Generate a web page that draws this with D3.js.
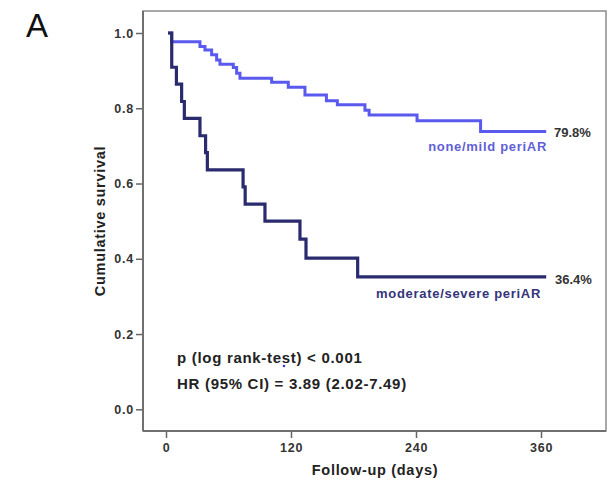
<!DOCTYPE html>
<html>
<head>
<meta charset="utf-8">
<script src="https://cdn.jsdelivr.net/npm/d3@7"></script>
<style>
  body { margin: 0; background: #fff; }
  text { font-family: "Liberation Sans", Arial, sans-serif; font-weight: bold; }
</style>
</head>
<body>
<div id="chart"></div>
<script>
// step points: [day, survival]
const mildSteps = [
  [2, 1.0], [5.4, 0.977], [32.6, 0.964], [37.4, 0.955], [43.8, 0.942], [48.6, 0.928],
  [51.8, 0.917], [64.6, 0.908], [67.8, 0.893], [71, 0.880], [101.4, 0.869], [117.4, 0.856],
  [133.4, 0.835], [154, 0.820], [164.5, 0.809], [191, 0.795], [195, 0.782], [241, 0.767],
  [302, 0.738], [365, 0.738]
];
const severeSteps = [
  [2, 1.0], [5.5, 0.909], [10, 0.864], [15, 0.818], [17.6, 0.773], [32.6, 0.727],
  [38, 0.682], [39.7, 0.636], [74, 0.591], [76, 0.545], [95, 0.5], [128.6, 0.452],
  [134.4, 0.402], [184, 0.352], [365, 0.352]
];
const xTicks = [0, 120, 240, 360];
const yTicks = [0, 0.2, 0.4, 0.6, 0.8, 1.0];
const seriesNames = ["none/mild periAR", "moderate/severe periAR"];
const endLabels = ["79.8%", "36.4%"];
const statLines = ["p (log rank-test) < 0.001", "HR (95% CI) = 3.89 (2.02-7.49)"];

const w = 615, h = 482;
const box = { left: 143, top: 11, right: 606, bottom: 431 };

const x = d3.scaleLinear().domain([0, 360]).range([166, 541]);
const y = d3.scaleLinear().domain([0, 1]).range([409.3, 33]);

const svg = d3.select("#chart").append("svg").attr("width", w).attr("height", h);

// panel letter
svg.append("text").attr("x", 26).attr("y", 37).text("A")
  .style("font-size", "33px").style("font-weight", "normal").attr("fill", "#111");

// frame
svg.append("rect")
  .attr("x", box.left).attr("y", box.top)
  .attr("width", box.right - box.left).attr("height", box.bottom - box.top)
  .attr("fill", "none").attr("stroke", "#8c8c8c").attr("stroke-width", 1.5);

// axes
let yAxis = svg.append("g").attr("transform", `translate(${box.left},0)`)
  .call(d3.axisLeft(y).tickValues(yTicks).tickFormat(d3.format(".1f")).tickSize(7).tickPadding(2));
let xAxis = svg.append("g").attr("transform", `translate(0,${box.bottom})`)
  .call(d3.axisBottom(x).tickValues(xTicks).tickSize(7).tickPadding(5));

[yAxis, xAxis].forEach(a => {
  a.select(".domain").remove();
  a.selectAll(".tick line").attr("stroke", "#666").attr("stroke-width", 1.5);
  a.selectAll(".tick text").attr("fill", "#333").style("font-size", "12.5px")
    .style("letter-spacing", "0.8px").style("font-family", "'Liberation Sans', Arial, sans-serif");
});

// darker left and bottom axis lines
svg.append("line").attr("x1", box.left).attr("x2", box.left).attr("y1", box.top).attr("y2", box.bottom)
  .attr("stroke", "#707070").attr("stroke-width", 2);
svg.append("line").attr("x1", box.left).attr("x2", box.right).attr("y1", box.bottom).attr("y2", box.bottom)
  .attr("stroke", "#707070").attr("stroke-width", 2);

// axis titles
svg.append("text").attr("x", 375).attr("y", 475).attr("text-anchor", "middle")
  .text("Follow-up (days)").style("font-size", "14.5px").style("letter-spacing", "0.7px").attr("fill", "#222");
svg.append("text").attr("transform", "translate(105,221) rotate(-90)").attr("text-anchor", "middle")
  .text("Cumulative survival").style("font-size", "14.5px").style("letter-spacing", "0.7px").attr("fill", "#222");

// survival curves
const line = d3.line().x(d => x(d[0])).y(d => y(d[1])).curve(d3.curveStepAfter);
const colors = ["#5a5aee", "#2a2a6e"];

svg.append("path").datum(mildSteps).attr("d", line)
  .attr("fill", "none").attr("stroke", colors[0]).attr("stroke-width", 3);
svg.append("path").datum(severeSteps).attr("d", line)
  .attr("fill", "none").attr("stroke", colors[1]).attr("stroke-width", 3.2);

// end labels
svg.append("text").attr("x", 554).attr("y", 137).text(endLabels[0])
  .style("font-size", "13px").attr("fill", "#333");
svg.append("text").attr("x", 555).attr("y", 284).text(endLabels[1])
  .style("font-size", "13px").attr("fill", "#333");

// series names
svg.append("text").attr("x", 547).attr("y", 151).attr("text-anchor", "end").text(seriesNames[0])
  .style("font-size", "13px").style("letter-spacing", "0.7px").attr("fill", "#5f5fd8");
svg.append("text").attr("x", 541).attr("y", 298).attr("text-anchor", "end").text(seriesNames[1])
  .style("font-size", "13px").style("letter-spacing", "0.7px").attr("fill", "#34347a");

// statistics
statLines.forEach((s, i) => {
  svg.append("text").attr("x", 177).attr("y", 363 + i * 26).text(s)
    .style("font-size", "15px").style("letter-spacing", "0.7px").attr("fill", "#222");
});

// small stray dot in the original
svg.append("circle").attr("cx", 284).attr("cy", 366).attr("r", 1.3).attr("fill", "#3a3ad0");
</script>
</body>
</html>
